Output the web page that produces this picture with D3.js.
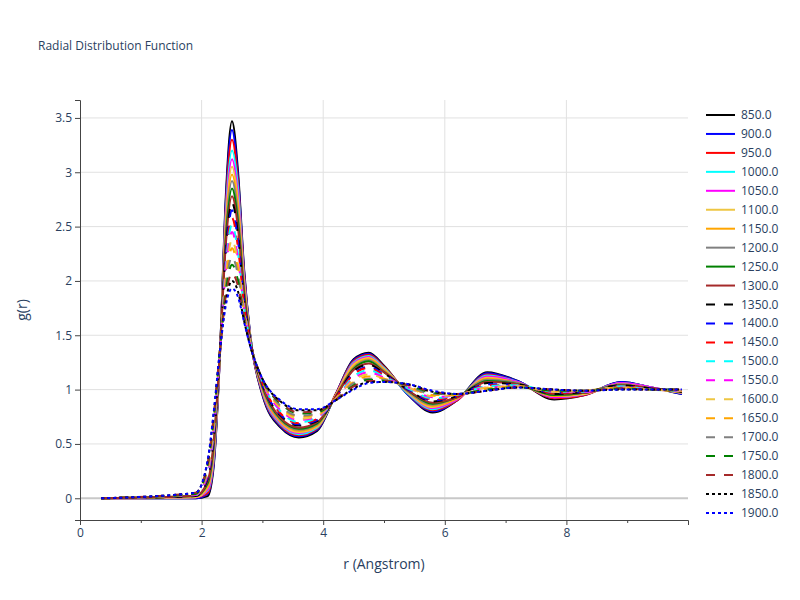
<!DOCTYPE html>
<html><head><meta charset="utf-8">
<script src="https://cdn.jsdelivr.net/npm/d3@7"></script>
<style>body{margin:0;background:#fff;font-family:"Open Sans",sans-serif}</style>
</head><body><svg id="c" width="800" height="600"></svg>
<script>
const rValues=[0.35,1.9,2.1,2.2,2.3,2.4,2.5,2.6,2.7,2.8,3.0,3.3,3.6,3.9,4.2,4.5,4.75,5.0,5.4,5.8,6.2,6.7,7.2,7.8,8.3,8.9,9.4,9.9];
const temps=["850.0","900.0","950.0","1000.0","1050.0","1100.0","1150.0","1200.0","1250.0","1300.0","1350.0","1400.0","1450.0","1500.0","1550.0","1600.0","1650.0","1700.0","1750.0","1800.0","1850.0","1900.0"];
const g850=[0,0,0.02,0.3,1.3,2.8,3.47,3.0,2.1,1.5,0.95,0.65,0.56,0.62,0.95,1.28,1.34,1.22,0.95,0.79,0.9,1.16,1.08,0.91,0.95,1.07,1.02,0.96];
const g900=[0,0,0.04,0.32,1.3,2.75,3.39,2.95,2.08,1.5,0.96,0.66,0.57,0.63,0.95,1.27,1.33,1.21,0.95,0.8,0.9,1.15,1.08,0.92,0.95,1.07,1.02,0.96];
const g950=[0,0.01,0.05,0.35,1.3,2.7,3.3,2.9,2.05,1.49,0.97,0.67,0.58,0.64,0.95,1.26,1.32,1.21,0.96,0.81,0.9,1.14,1.07,0.92,0.95,1.06,1.02,0.97];
const g1000=[0,0.01,0.07,0.37,1.31,2.65,3.2,2.85,2.02,1.49,0.98,0.68,0.59,0.65,0.94,1.25,1.31,1.2,0.96,0.82,0.91,1.13,1.07,0.93,0.96,1.06,1.02,0.97];
const g1050=[0,0.01,0.08,0.4,1.31,2.6,3.12,2.78,2.0,1.48,0.99,0.69,0.6,0.66,0.94,1.24,1.3,1.19,0.97,0.83,0.91,1.12,1.07,0.93,0.96,1.06,1.02,0.97];
const g1100=[0,0.01,0.1,0.42,1.32,2.55,3.05,2.72,1.97,1.48,1.0,0.7,0.61,0.66,0.94,1.23,1.29,1.19,0.97,0.84,0.92,1.11,1.06,0.94,0.96,1.05,1.01,0.97];
const g1150=[0,0.02,0.11,0.45,1.32,2.5,2.98,2.66,1.94,1.47,1.01,0.71,0.62,0.67,0.94,1.21,1.28,1.18,0.98,0.85,0.92,1.1,1.06,0.94,0.97,1.05,1.01,0.98];
const g1200=[0,0.02,0.13,0.47,1.32,2.45,2.92,2.6,1.91,1.47,1.02,0.72,0.63,0.68,0.93,1.2,1.27,1.17,0.98,0.86,0.93,1.09,1.06,0.95,0.97,1.05,1.01,0.98];
const g1250=[0,0.02,0.14,0.5,1.33,2.4,2.85,2.54,1.88,1.46,1.03,0.73,0.64,0.69,0.93,1.19,1.26,1.16,0.99,0.87,0.93,1.08,1.05,0.95,0.97,1.04,1.01,0.98];
const g1300=[0,0.02,0.16,0.52,1.33,2.35,2.78,2.48,1.85,1.46,1.04,0.74,0.65,0.7,0.93,1.18,1.24,1.16,0.99,0.88,0.93,1.07,1.05,0.96,0.97,1.04,1.01,0.98];
const g1350=[0,0.02,0.18,0.55,1.33,2.3,2.72,2.42,1.83,1.45,1.05,0.76,0.67,0.71,0.92,1.17,1.23,1.15,1.0,0.89,0.94,1.06,1.05,0.96,0.98,1.04,1.01,0.98];
const g1400=[0,0.03,0.19,0.57,1.34,2.25,2.65,2.36,1.8,1.45,1.05,0.77,0.68,0.72,0.92,1.15,1.21,1.14,1.0,0.9,0.94,1.05,1.04,0.97,0.98,1.03,1.01,0.99];
const g1450=[0,0.03,0.21,0.6,1.34,2.2,2.58,2.3,1.78,1.44,1.06,0.78,0.69,0.73,0.92,1.14,1.2,1.13,1.01,0.91,0.94,1.04,1.04,0.97,0.98,1.03,1.01,0.99];
const g1500=[0,0.03,0.23,0.62,1.34,2.15,2.52,2.25,1.76,1.44,1.07,0.8,0.7,0.74,0.91,1.12,1.18,1.12,1.01,0.92,0.95,1.03,1.04,0.98,0.98,1.03,1.0,0.99];
const g1550=[0,0.03,0.24,0.65,1.34,2.1,2.45,2.2,1.74,1.43,1.07,0.81,0.72,0.75,0.91,1.1,1.16,1.11,1.02,0.93,0.95,1.02,1.03,0.98,0.98,1.02,1.0,0.99];
const g1600=[0,0.04,0.26,0.67,1.35,2.05,2.38,2.15,1.72,1.43,1.08,0.83,0.73,0.76,0.91,1.09,1.14,1.1,1.02,0.94,0.95,1.02,1.03,0.98,0.99,1.02,1.0,0.99];
const g1650=[0,0.04,0.28,0.7,1.35,2.0,2.3,2.1,1.7,1.42,1.08,0.84,0.75,0.77,0.91,1.07,1.12,1.1,1.03,0.95,0.95,1.01,1.03,0.99,0.99,1.02,1.0,0.99];
const g1700=[0,0.04,0.29,0.72,1.35,1.96,2.22,2.05,1.68,1.42,1.09,0.85,0.76,0.78,0.9,1.06,1.1,1.09,1.03,0.96,0.96,1.0,1.02,0.99,0.99,1.01,1.0,1.0];
const g1750=[0,0.04,0.31,0.74,1.35,1.91,2.15,2.0,1.66,1.41,1.09,0.87,0.78,0.79,0.9,1.04,1.09,1.08,1.04,0.97,0.96,1.0,1.02,0.99,0.99,1.01,1.0,1.0];
const g1800=[0,0.05,0.32,0.76,1.35,1.87,2.07,1.95,1.65,1.41,1.1,0.88,0.79,0.8,0.9,1.03,1.08,1.08,1.04,0.98,0.96,0.99,1.02,1.0,0.99,1.01,1.0,1.0];
const g1850=[0,0.05,0.34,0.78,1.35,1.82,2.0,1.9,1.63,1.4,1.1,0.89,0.81,0.81,0.9,1.01,1.07,1.07,1.05,0.98,0.96,0.99,1.02,1.0,0.99,1.0,1.0,1.0];
const g1900=[0,0.05,0.35,0.8,1.35,1.78,1.93,1.85,1.62,1.4,1.1,0.9,0.82,0.82,0.9,1.0,1.06,1.07,1.05,0.99,0.96,0.99,1.02,1.0,0.99,1.0,1.0,1.0];
const seriesValues=[g850,g900,g950,g1000,g1050,g1100,g1150,g1200,g1250,g1300,g1350,g1400,g1450,g1500,g1550,g1600,g1650,g1700,g1750,g1800,g1850,g1900];
const xTicks=[0,2,4,6,8];
const yTicks=[0,0.5,1,1.5,2,2.5,3,3.5];

const palette=["#000000","#0000ff","#ff0000","#00ffff","#ff00ff","#eec643","#ffa500","#808080","#008000","#a52a2a"];
const dashFor=i=>i<10?null:(i<20?"9,9":"3,3");
const svg=d3.select("#c");
const L=80,R=688,T=100,B=520;
const x=d3.scaleLinear().domain([0,10]).range([L,R]);
const y=d3.scaleLinear().domain([-0.2,3.665]).range([B,T]);
const tc="#2a3f5f";
svg.append("text").attr("x",38).attr("y",50).attr("font-size",12).attr("fill",tc).text("Radial Distribution Function");
const grid=svg.append("g");
xTicks.forEach(v=>{ if(v>0) grid.append("line").attr("x1",x(v)).attr("x2",x(v)).attr("y1",T).attr("y2",B).attr("stroke","#e1e1e1");});
yTicks.forEach(v=>{ grid.append("line").attr("x1",L).attr("x2",R).attr("y1",y(v)).attr("y2",y(v)).attr("stroke",v===0?"#c8c8c8":"#e1e1e1").attr("stroke-width",v===0?2:1);});
const xa=svg.append("g").attr("transform",`translate(0,${B})`).call(d3.axisBottom(x).tickValues(xTicks).tickSize(5).tickFormat(d3.format("d")));
xa.select(".domain").attr("stroke","#444");
xa.selectAll("text").attr("font-size",12).attr("fill",tc).attr("font-family","Open Sans");
xa.selectAll(".tick line").attr("stroke","#444");
svg.append("g").attr("transform",`translate(0,${B})`).call(d3.axisBottom(x).tickValues([1,3,5,7,9]).tickSize(3).tickFormat("")).call(g=>g.select(".domain").remove()).selectAll("line").attr("stroke","#444");
const ya=svg.append("g").attr("transform",`translate(${L},0)`).call(d3.axisLeft(y).tickValues(yTicks).tickSize(5).tickFormat(d=>d));
ya.select(".domain").attr("stroke","#444");
ya.selectAll("text").attr("font-size",12).attr("fill",tc).attr("font-family","Open Sans");
ya.selectAll(".tick line").attr("stroke","#444");
svg.append("text").attr("x",(L+R)/2).attr("y",569).attr("text-anchor","middle").attr("font-size",14).attr("fill",tc).text("r (Angstrom)");
svg.append("text").attr("transform","translate(27,310) rotate(-90)").attr("text-anchor","middle").attr("font-size",14).attr("fill",tc).text("g(r)");
const line=d3.line().x((d,i)=>x(rValues[i])).y(d=>y(d)).curve(d3.curveMonotoneX);
svg.append("defs").append("clipPath").attr("id","cp").append("rect").attr("x",L).attr("y",T).attr("width",R-L).attr("height",B-T);
const pl=svg.append("g").attr("clip-path","url(#cp)");
seriesValues.forEach((s,i)=>{
  pl.append("path").attr("d",line(s)).attr("fill","none").attr("stroke",palette[i%10]).attr("stroke-width",2).attr("stroke-dasharray",dashFor(i));
});
const lg=svg.append("g");
temps.forEach((t,i)=>{
  const yy=115+i*18.95;
  lg.append("line").attr("x1",706).attr("x2",735).attr("y1",yy).attr("y2",yy).attr("stroke",palette[i%10]).attr("stroke-width",2).attr("stroke-dasharray",dashFor(i));
  lg.append("text").attr("x",741).attr("y",yy+4).attr("font-size",12).attr("fill",tc).text(t);
});
</script></body></html>
